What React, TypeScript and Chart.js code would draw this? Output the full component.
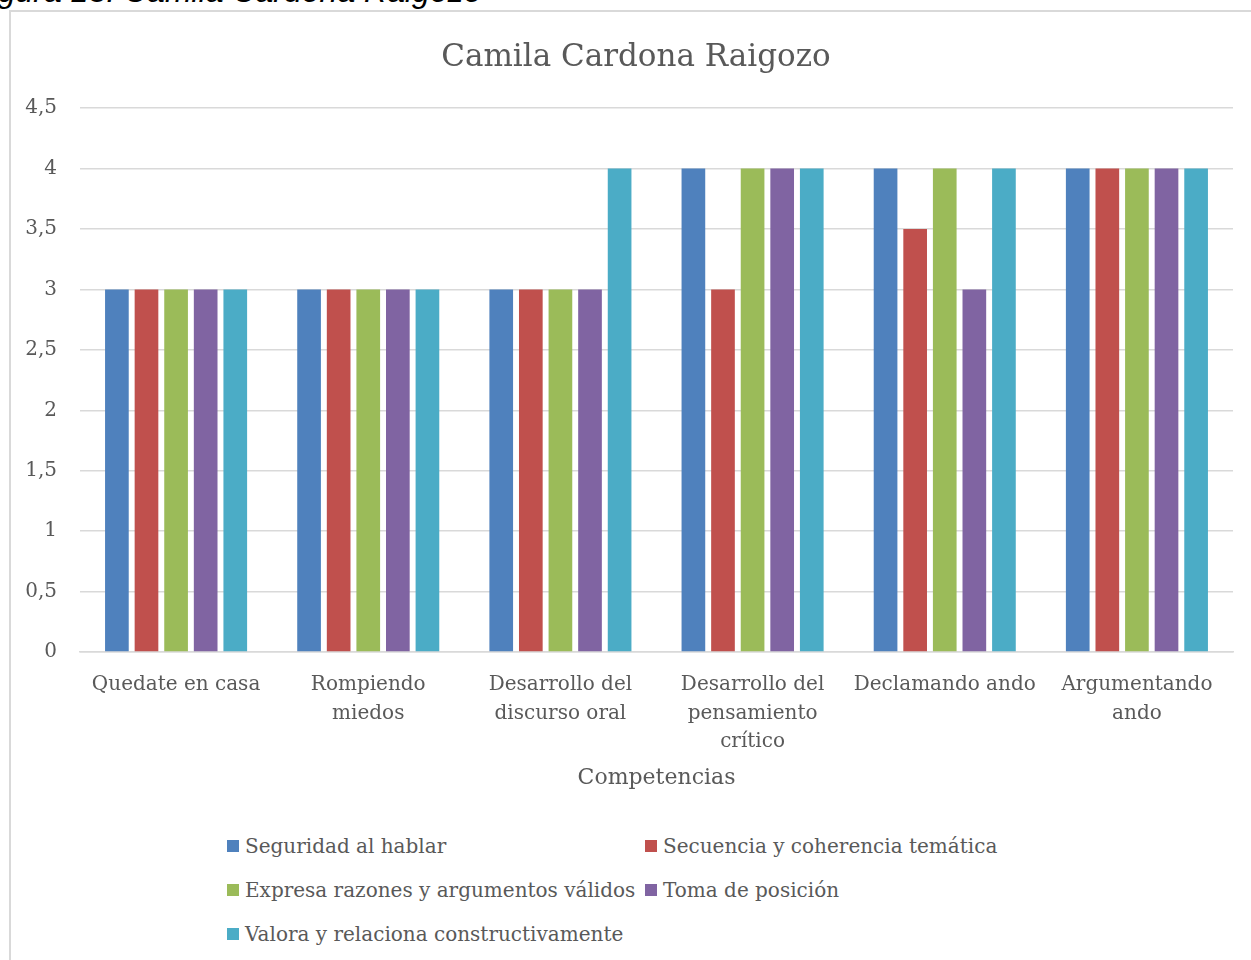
import React, { useEffect, useRef } from "react";
import { Chart, registerables } from "chart.js";

Chart.register(...registerables);

const chartTitle = "Camila Cardona Raigozo";
const captionText = "Figura 13. Camila Cardona Raigozo";
const xAxisTitle = "Competencias";

const categories: string[][] = [
  ["Quedate en casa"],
  ["Rompiendo", "miedos"],
  ["Desarrollo del", "discurso oral"],
  ["Desarrollo del", "pensamiento", "crítico"],
  ["Declamando ando"],
  ["Argumentando", "ando"],
];

const seriesNames = [
  "Seguridad al hablar",
  "Secuencia y coherencia temática",
  "Expresa razones y argumentos válidos",
  "Toma de posición",
  "Valora y relaciona constructivamente",
];

const seguridad = [3, 3, 3, 4, 4, 4];
const secuencia = [3, 3, 3, 3, 3.5, 4];
const expresa = [3, 3, 3, 4, 4, 4];
const toma = [3, 3, 3, 4, 3, 4];
const valora = [3, 3, 4, 4, 4, 4];

const seriesValues = [seguridad, secuencia, expresa, toma, valora];
const seriesColors = ["#4F81BD", "#C0504D", "#9BBB59", "#8064A2", "#4BACC6"];

const yMin = 0;
const yMax = 4.5;
const yStep = 0.5;

const FONT = "'DejaVu Serif', serif";
const TEXT = "#595959";
const GRID = "#D9D9D9";

const titleShift = {
  id: "titleShift",
  afterLayout(chart: any) {
    const t = chart.titleBlock;
    if (t) {
      t.left = 39;
      t.right = 1233;
    }
  },
};

export default function App() {
  const canvasRef = useRef<HTMLCanvasElement | null>(null);

  useEffect(() => {
    if (!canvasRef.current) return;
    const chart = new Chart(canvasRef.current, {
      type: "bar",
      data: {
        labels: categories,
        datasets: seriesNames.map((name, i) => ({
          label: name,
          data: seriesValues[i],
          backgroundColor: seriesColors[i],
          borderWidth: 0,
          barPercentage: 0.8,
          categoryPercentage: 0.77,
        })),
      },
      plugins: [titleShift],
      options: {
        animation: false,
        responsive: false,
        devicePixelRatio: 1,
        layout: { padding: { left: 0, right: 18, top: 0, bottom: 0 } },
        plugins: {
          legend: { display: false },
          tooltip: { enabled: false },
          title: {
            display: true,
            text: chartTitle,
            color: TEXT,
            font: { family: FONT, size: 31, weight: "normal", lineHeight: 1.2 },
            padding: { top: 39, bottom: 32 },
          },
        },
        scales: {
          x: {
            grid: { display: false, drawTicks: false },
            border: { display: true, color: GRID, width: 1.5 },
            afterFit: (scale: any) => {
              scale.height = 139;
            },
            ticks: {
              color: TEXT,
              padding: 19,
              maxRotation: 0,
              autoSkip: false,
              font: { family: FONT, size: 20, lineHeight: 1.42 },
            },
            title: {
              display: true,
              text: xAxisTitle,
              color: TEXT,
              font: { family: FONT, size: 22, lineHeight: 1.2 },
              padding: { top: 0, bottom: 0 },
            },
          },
          y: {
            min: yMin,
            max: yMax,
            border: { display: false },
            grid: { color: GRID, lineWidth: 1.5, drawTicks: false },
            afterFit: (scale: any) => {
              scale.width = 80;
            },
            ticks: {
              stepSize: yStep,
              color: TEXT,
              padding: 23,
              font: { family: FONT, size: 20 },
              callback: (v: any) => String(v).replace(".", ","),
            },
          },
        },
      },
    });
    return () => chart.destroy();
  }, []);

  const legendPos = [
    { left: 227, top: 846 },
    { left: 645, top: 846 },
    { left: 227, top: 890 },
    { left: 645, top: 890 },
    { left: 227, top: 934 },
  ];

  return (
    <div
      style={{
        position: "fixed",
        left: 0,
        top: 0,
        width: 1251,
        height: 960,
        background: "#fff",
        overflow: "hidden",
      }}
    >
      <div
        style={{
          position: "absolute",
          left: 9,
          top: 10,
          width: 1300,
          height: 1000,
          border: "2px solid #D9D9D9",
          boxSizing: "border-box",
        }}
      />
      <div
        style={{
          position: "absolute",
          left: -29,
          top: -25,
          fontFamily: "'Liberation Sans', Arial, sans-serif",
          fontStyle: "italic",
          fontSize: 32,
          lineHeight: "32px",
          color: "#000",
          whiteSpace: "nowrap",
        }}
      >
        {captionText}
      </div>
      <canvas
        ref={canvasRef}
        width={1251}
        height={791}
        style={{ position: "absolute", left: 0, top: 0, width: 1251, height: 791 }}
      />
      {seriesNames.map((name, i) => (
        <div
          key={name}
          style={{
            position: "absolute",
            left: legendPos[i].left,
            top: legendPos[i].top - 14,
            height: 28,
            display: "flex",
            alignItems: "center",
            fontFamily: FONT,
            fontSize: 20,
            color: TEXT,
            whiteSpace: "nowrap",
          }}
        >
          <span
            style={{
              display: "inline-block",
              width: 12,
              height: 12,
              background: seriesColors[i],
              marginRight: 6,
            }}
          />
          {name}
        </div>
      ))}
    </div>
  );
}
